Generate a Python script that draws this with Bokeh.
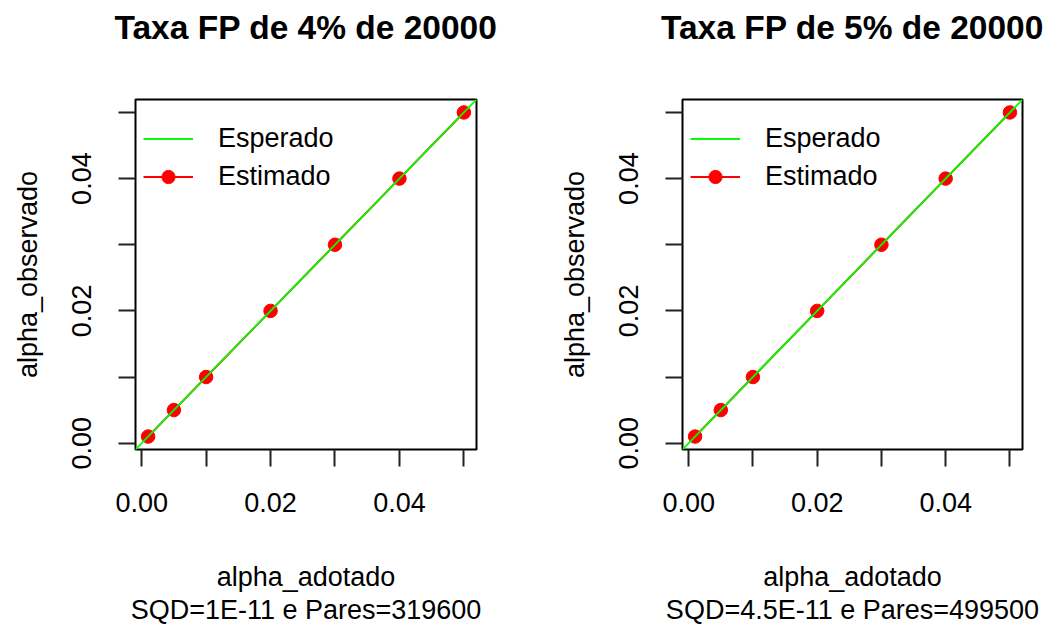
from bokeh.plotting import figure
from bokeh.layouts import row
from bokeh.models import Range1d, FixedTicker, Legend, LegendItem, Title, LinearAxis
from bokeh.embed import file_html
from bokeh.resources import INLINE

# nominal significance levels and the observed false-positive rates
alpha_adotado = [0.001, 0.005, 0.01, 0.02, 0.03, 0.04, 0.05]
obs_4pct = [0.001, 0.005, 0.01, 0.02, 0.03, 0.04, 0.05]
obs_5pct = [0.001, 0.005, 0.01, 0.02, 0.03, 0.04, 0.05]

titles = ["Taxa FP de 4% de 20000", "Taxa FP de 5% de 20000"]
subtitles = ["SQD=1E-11 e Pares=319600", "SQD=4.5E-11 e Pares=499500"]

tick_values = [0.0, 0.01, 0.02, 0.03, 0.04, 0.05]
tick_labels = {0.0: "0.00", 0.01: "", 0.02: "0.02", 0.03: "", 0.04: "0.04", 0.05: ""}

FONT = "Liberation Sans"
FS = "27px"


def padded(vals):
    lo, hi = min(vals), max(vals)
    ext = 0.04 * (hi - lo)
    return lo - ext, hi + ext


def panel(obs, title, subtitle, width, frame_w):
    x0, x1 = padded(alpha_adotado)
    y0, y1 = padded(obs)
    lo, hi = min(x0, y0), max(x1, y1)
    p = figure(width=width, height=628, x_range=Range1d(lo, hi), y_range=Range1d(lo, hi),
               output_backend="svg", toolbar_location=None,
               min_border_left=135, min_border_right=width - 135 - frame_w,
               min_border_top=99, min_border_bottom=179)
    p.grid.visible = False
    p.outline_line_color = "black"
    p.outline_line_width = 2
    p.outline_line_alpha = 1
    p.background_fill_color = "white"
    p.border_fill_color = "white"

    xa = p.below[0]
    ya = p.left[0]
    for ax in (xa, ya):
        ax.ticker = FixedTicker(ticks=tick_values)
        ax.major_label_overrides = tick_labels
        ax.axis_line_color = None
        ax.major_tick_out = 17
        ax.major_tick_in = 0
        ax.major_tick_line_width = 2
        ax.major_tick_line_color = "#222222"
        ax.minor_tick_line_color = None
        ax.major_label_text_font = FONT
        ax.major_label_text_font_size = FS
        ax.major_label_text_color = "black"
        ax.axis_label_text_font = FONT
        ax.axis_label_text_font_size = FS
        ax.axis_label_text_font_style = "normal"
        ax.axis_label_text_color = "black"
    xa.major_label_standoff = 26
    ya.major_label_standoff = 27
    ya.major_label_orientation = "vertical"
    xa.axis_label = "alpha_adotado"
    xa.axis_label_standoff = 47
    ya.axis_label = "alpha_observado"
    ya.axis_label_standoff = 27

    # main title: carried by a tick-less axis on top so it can sit high in the margin
    top = LinearAxis(ticker=FixedTicker(ticks=[]), axis_line_color=None,
                     major_tick_line_color=None, minor_tick_line_color=None,
                     major_tick_out=0, major_tick_in=0, major_label_standoff=0,
                     axis_label=title, axis_label_standoff=54,
                     axis_label_text_font=FONT, axis_label_text_font_size="33.5px",
                     axis_label_text_font_style="bold", axis_label_text_color="black")
    p.add_layout(top, "above")

    sub = Title(text=subtitle, align="center", text_font=FONT, text_font_size=FS,
                text_font_style="normal", text_color="black", standoff=-4)
    p.add_layout(sub, "below")

    # estimated rates: line with filled points
    est_line = p.line(alpha_adotado, obs, line_color="#FF0000", line_width=2)
    est_pts = p.scatter(alpha_adotado, obs, size=13.5, fill_color="#FF0000", line_color="#FF0000")
    # expected identity line across the whole panel
    ident = p.line([lo, hi], [lo, hi], line_color="#00FF00", line_width=1.8)

    legend = Legend(items=[LegendItem(label="Esperado", renderers=[ident]),
                           LegendItem(label="Estimado", renderers=[est_line, est_pts])],
                    location=(8, 256), padding=0, margin=0, spacing=5,
                    glyph_width=50, glyph_height=33, label_standoff=25,
                    label_text_font=FONT, label_text_font_size=FS,
                    label_text_color="black",
                    border_line_color=None, background_fill_alpha=0)
    p.add_layout(legend)
    return p


p1 = panel(obs_4pct, titles[0], subtitles[0], 547, 341)
p2 = panel(obs_5pct, titles[1], subtitles[1], 500, 340)
layout = row(p1, p2, spacing=0)

open("out.html", "w").write(file_html(layout, INLINE))
